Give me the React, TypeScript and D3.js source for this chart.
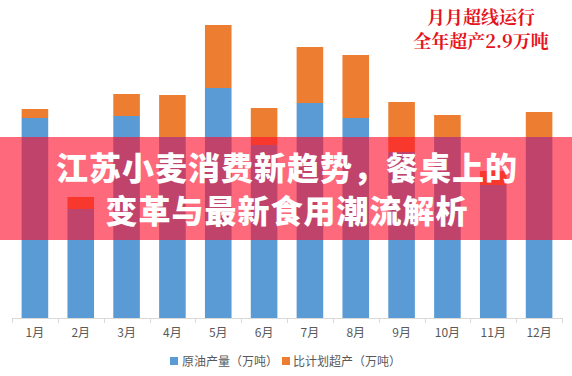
import React from "react";
import * as d3 from "d3";

const months = ["1月", "2月", "3月", "4月", "5月", "6月", "7月", "8月", "9月", "10月", "11月", "12月"];
const output = [200, 109, 202, 181, 230, 173, 215, 200, 166, 181, 133, 181];
const overProduction = [9, 12, 22, 42, 63, 37, 56, 63, 50, 22, 14, 25];
const seriesNames = ["原油产量（万吨）", "比计划超产（万吨）"];
const seriesColors = ["#5B9BD5", "#ED7D31"];
const noteLines = ["月月超线运行", "全年超产2.9万吨"];
const headlineLines = ["江苏小麦消费新趋势，餐桌上的", "变革与最新食用潮流解析"];

const W = 572;
const H = 376;

export default function App() {
  const x = d3.scaleBand<string>().domain(months).range([12, 562]).paddingInner(0.42).paddingOuter(0.21);
  const y = d3.scaleLinear().domain([0, 300]).range([318, 18]);
  const rows = months.map((m, i) => ({ month: m, output: output[i], over: overProduction[i] }));
  const stack = d3.stack<any>().keys(["output", "over"])(rows);
  const font = "'Noto Sans CJK SC', 'Microsoft YaHei', sans-serif";
  const ticks = [12, ...months.map((m) => (x(m) as number) + x.bandwidth() / 2 + x.step() / 2)];

  return (
    <svg width={W} height={H} style={{ position: "absolute", left: 0, top: 0, background: "#fff" }}>
      <rect x={0} y={0} width={W} height={H} fill="#fff" />
      {stack.map((s, si) => (
        <g key={si} fill={seriesColors[si]}>
          {s.map((d, i) => (
            <rect key={i} x={x(months[i])} y={y(d[1])} width={x.bandwidth()} height={y(d[0]) - y(d[1])} />
          ))}
        </g>
      ))}
      <line x1={12} x2={562} y1={318.5} y2={318.5} stroke="#d9d9d9" />
      {ticks.map((t, i) => (
        <line key={i} x1={Math.round(t) + 0.5} x2={Math.round(t) + 0.5} y1={318} y2={323} stroke="#d9d9d9" />
      ))}
      {months.map((m) => (
        <text key={m} x={(x(m) as number) + x.bandwidth() / 2} y={337} textAnchor="middle" fontSize={12} fill="#595959" fontFamily={font}>
          {m}
        </text>
      ))}
      <g fontFamily={font} fontSize={12} fill="#595959">
        <rect x={170} y={357} width={8} height={8} fill={seriesColors[0]} />
        <text x={182} y={365.5}>{seriesNames[0]}</text>
        <rect x={282} y={357} width={8} height={8} fill={seriesColors[1]} />
        <text x={293} y={365.5}>{seriesNames[1]}</text>
      </g>
      <g fontFamily="'Noto Serif CJK SC', 'Noto Sans CJK SC', serif" fontSize={18} fill="#e5131b" fontWeight={700} textAnchor="middle">
        <text x={481} y={24}>{noteLines[0]}</text>
        <text x={481} y={48}>{noteLines[1]}</text>
      </g>
      <rect x={0} y={137} width={W} height={103} fill="rgb(255,13,44)" fillOpacity={0.62} />
      <g fontFamily={font} fontSize={32} fontWeight={900} fill="#fff" textAnchor="middle" letterSpacing={1}>
        <text x={287} y={180}>{headlineLines[0]}</text>
        <text x={287} y={223}>{headlineLines[1]}</text>
      </g>
    </svg>
  );
}
